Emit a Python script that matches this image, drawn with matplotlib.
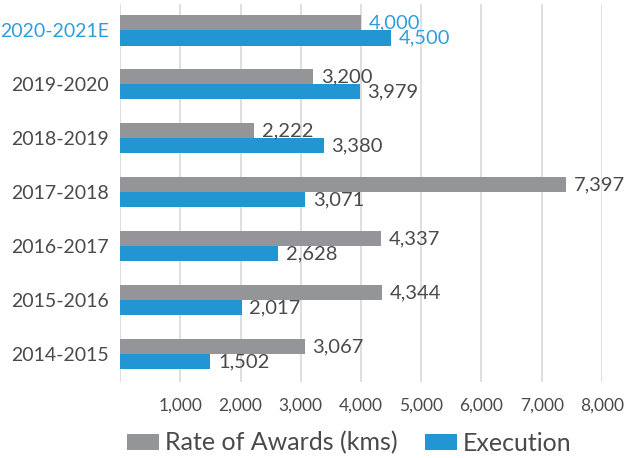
import matplotlib.pyplot as plt
import numpy as np

periods = ["2014-2015", "2015-2016", "2016-2017", "2017-2018",
           "2018-2019", "2019-2020", "2020-2021E"]
awards = [3067, 4344, 4337, 7397, 2222, 3200, 4000]
execution = [1502, 2017, 2628, 3071, 3380, 3979, 4500]
x_ticks = [0, 1000, 2000, 3000, 4000, 5000, 6000, 7000, 8000]

GRAY = "#939598"
BLUE = "#2196d3"
TEXT = "#4a4a4a"
LABEL_BLUE = "#2f9fdb"

plt.rcParams["font.family"] = ["Lato", "DejaVu Sans"]

fig = plt.figure(figsize=(6.27, 4.58), dpi=100)
ax = fig.add_axes([0.1914, 0.1659, 0.7687, 0.8254])

y = np.arange(len(periods))
h = 0.28
ax.barh(y + h / 2, awards, height=h, color=GRAY, label="Rate of Awards (kms)", zorder=2)
ax.barh(y - h / 2, execution, height=h, color=BLUE, label="Execution", zorder=2)

for i, (a, e) in enumerate(zip(awards, execution)):
    col = LABEL_BLUE if periods[i].endswith("E") else TEXT
    ax.text(a + 130, y[i] + h / 2, f"{a:,}", va="center", ha="left", fontsize=14.5, color=col)
    ax.text(e + 130, y[i] - h / 2, f"{e:,}", va="center", ha="left", fontsize=14.5, color=col)

ax.set_xlim(0, 8000)
ax.set_ylim(-0.52, 6.49)
ax.set_xticks(x_ticks)
ax.set_xticklabels([""] + [f"{v:,}" for v in x_ticks[1:]])
ax.set_yticks(y)
ax.set_yticklabels(periods)
for lbl in ax.get_yticklabels():
    lbl.set_color(LABEL_BLUE if lbl.get_text().endswith("E") else TEXT)
ax.tick_params(axis="y", length=0, pad=8, labelsize=14)
ax.tick_params(axis="x", length=0, pad=11, labelsize=12.5, labelcolor=TEXT)
ax.grid(axis="x", color="#d9d9d9", lw=1.2, zorder=0)
for s in ax.spines.values():
    s.set_visible(False)

fig.legend(loc="center", bbox_to_anchor=(0.557, 0.033), ncol=2, frameon=False,
           fontsize=18, handlelength=1.28, handleheight=0.6, handletextpad=0.25,
           columnspacing=1.08, labelcolor=TEXT)

fig.savefig("out.png", dpi=100)
